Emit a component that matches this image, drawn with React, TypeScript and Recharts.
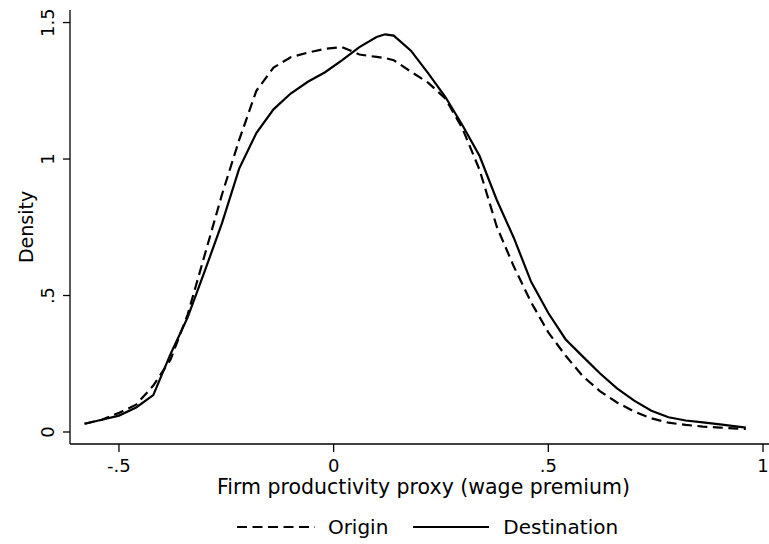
import React from 'react';
import { LineChart, Line, XAxis, YAxis, Legend } from 'recharts';

const xValues = [-0.58, -0.54, -0.5, -0.46, -0.42, -0.38, -0.34, -0.3, -0.26, -0.22, -0.18, -0.14, -0.1, -0.06, -0.02, 0.02, 0.06, 0.1, 0.12, 0.14, 0.18, 0.22, 0.26, 0.3, 0.34, 0.38, 0.42, 0.46, 0.5, 0.54, 0.58, 0.62, 0.66, 0.7, 0.74, 0.78, 0.82, 0.86, 0.9, 0.96];
const origin = [0.03, 0.045, 0.07, 0.1, 0.17, 0.265, 0.43, 0.65, 0.87, 1.07, 1.25, 1.335, 1.373, 1.39, 1.404, 1.41, 1.383, 1.374, 1.37, 1.362, 1.32, 1.28, 1.222, 1.112, 0.96, 0.752, 0.605, 0.475, 0.365, 0.28, 0.205, 0.15, 0.108, 0.075, 0.05, 0.034, 0.026, 0.02, 0.016, 0.011];
const destination = [0.03, 0.045, 0.06, 0.09, 0.135, 0.285, 0.42, 0.59, 0.765, 0.965, 1.095, 1.182, 1.24, 1.283, 1.318, 1.362, 1.41, 1.447, 1.457, 1.452, 1.397, 1.315, 1.228, 1.124, 1.011, 0.85, 0.71, 0.55, 0.436, 0.34, 0.277, 0.215, 0.16, 0.115, 0.078, 0.054, 0.042, 0.035, 0.028, 0.016];

const xTicks = [-0.5, 0, 0.5, 1];
const xTickLabels = ['-.5', '0', '.5', '1'];
const yTicks = [0, 0.5, 1, 1.5];
const yTickLabels = ['0', '.5', '1', '1.5'];

const data = xValues.map((x, i) => ({ x, origin: origin[i], destination: destination[i] }));

const FONT = 'DejaVu Sans';

const XTick = (props: any) => {
  const { x, y, payload } = props;
  const i = xTicks.indexOf(payload.value);
  return (
    <text x={x} y={y} dy="0.71em" textAnchor="middle" fontFamily={FONT} fontSize={18} fill="#000">
      {i >= 0 ? xTickLabels[i] : payload.value}
    </text>
  );
};

const YTick = (props: any) => {
  const { x, y, payload } = props;
  const i = yTicks.indexOf(payload.value);
  return (
    <text x={x} y={y} transform={`rotate(-90 ${x} ${y})`} textAnchor="middle" fontFamily={FONT} fontSize={18} fill="#000">
      {i >= 0 ? yTickLabels[i] : payload.value}
    </text>
  );
};

const LegendContent = () => (
  <div style={{ display: 'flex', justifyContent: 'center', alignItems: 'center', fontFamily: FONT, fontSize: 20, color: '#000', paddingLeft: 86 }}>
    <svg width={78} height={10} style={{ marginRight: 13 }}>
      <line x1={0} y1={5} x2={78} y2={5} stroke="#000" strokeWidth={2.2} strokeDasharray="10 5.5" />
    </svg>
    <span style={{ marginRight: 25 }}>Origin</span>
    <svg width={76} height={10} style={{ marginRight: 14 }}>
      <line x1={0} y1={5} x2={76} y2={5} stroke="#000" strokeWidth={2.2} />
    </svg>
    <span>Destination</span>
  </div>
);

export default function App() {
  return (
    <div style={{ position: 'absolute', left: 0, top: 0, background: '#fff' }}>
      <LineChart width={769} height={544} data={data} margin={{ top: 10, right: 0, bottom: 0, left: 0 }}>
        <XAxis
          dataKey="x"
          type="number"
          domain={[-0.614, 1.014]}
          ticks={xTicks}
          tick={<XTick />}
          tickSize={8}
          tickMargin={7}
          height={100}
          stroke="#000"
          strokeWidth={1.3}
          allowDataOverflow
          label={(p: any) => {
            const vb = p.viewBox;
            return (
              <text x={vb.x + vb.width / 2 + 4} y={vb.y + 50} textAnchor="middle" fontFamily={FONT} fontSize={20.5} fill="#000">
                Firm productivity proxy (wage premium)
              </text>
            );
          }}
        />
        <YAxis
          type="number"
          domain={[-0.044, 1.546]}
          ticks={yTicks}
          tick={<YTick />}
          tickSize={7}
          tickMargin={9}
          width={70}
          stroke="#000"
          strokeWidth={1.3}
          allowDataOverflow
          label={() => {
            const cx = 33;
            const cy = 227;
            return (
              <text x={cx} y={cy} transform={`rotate(-90 ${cx} ${cy})`} textAnchor="middle" fontFamily={FONT} fontSize={19} fill="#000">
                Density
              </text>
            );
          }}
        />
        <Legend
          verticalAlign="middle"
          layout="horizontal"
          content={<LegendContent />}
          wrapperStyle={{ position: 'absolute', top: 515, left: 0, width: 769 }}
        />
        <Line dataKey="origin" name="Origin" type="linear" stroke="#000" strokeWidth={2.2} strokeDasharray="10 5.5" dot={false} isAnimationActive={false} />
        <Line dataKey="destination" name="Destination" type="linear" stroke="#000" strokeWidth={2.2} dot={false} isAnimationActive={false} />
      </LineChart>
    </div>
  );
}
